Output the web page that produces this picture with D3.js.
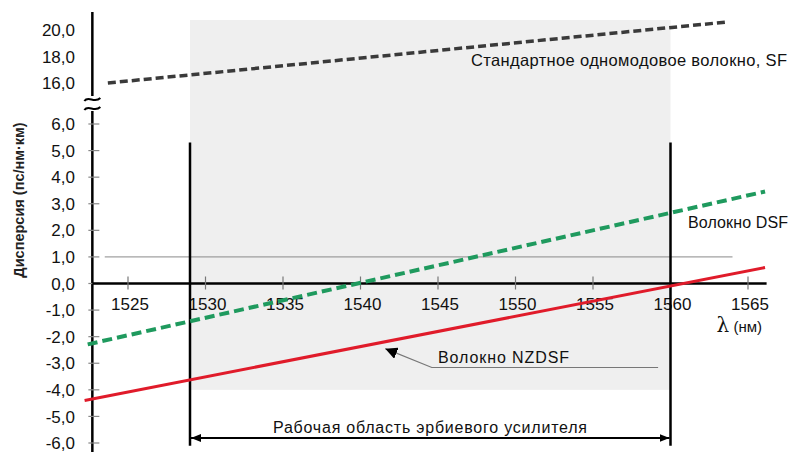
<!DOCTYPE html>
<html><head><meta charset="utf-8">
<script src="https://cdn.jsdelivr.net/npm/d3@7"></script>
<style>body{margin:0;background:#fff}svg{display:block;font-family:"Liberation Sans",Arial,sans-serif}</style>
</head><body><svg id="c" width="797" height="452"></svg>
<script>
const xTicks = [1525,1530,1535,1540,1545,1550,1555,1560,1565];
const yLowTicks = [-6,-5,-4,-3,-2,-1,0,1,2,3,4,5,6];
const yHighTicks = [16,18,20];
const sfLambda = [1523.7, 1563.6];
const sfValues = [16.0, 20.6];
const dsfLambda = [1522.4, 1566.1];
const dsfValues = [-2.29, 3.46];
const nzLambda = [1522.2, 1566.1];
const nzValues = [-4.40, 0.60];
const refLambda = [1523.5, 1564.0];
const refValues = [1.0, 1.0];
const bandLambda = [1529, 1560];

const svg = d3.select('#c');
const x = d3.scaleLinear().domain([1525,1565]).range([128,748]);
const yL = d3.scaleLinear().domain([-6,6]).range([443,124]);
const yH = d3.scaleLinear().domain([16,20]).range([83,30]);
const fmt = v => d3.format('.1f')(v).replace('.', ',').replace('−','-');

const defs = svg.append('defs');
defs.append('marker').attr('id','ah').attr('viewBox','0 0 10 10').attr('refX',10).attr('refY',5)
  .attr('markerWidth',10).attr('markerHeight',10).attr('markerUnits','userSpaceOnUse').attr('orient','auto-start-reverse')
  .append('path').attr('d','M0,1 L10,5 L0,9 Z').attr('fill','#000');
defs.append('marker').attr('id','ah2').attr('viewBox','0 0 10 10').attr('refX',10).attr('refY',5)
  .attr('markerWidth',12).attr('markerHeight',12).attr('markerUnits','userSpaceOnUse').attr('orient','auto')
  .append('path').attr('d','M0,0 L10,5 L0,10 Z').attr('fill','#000');

// shaded band
svg.append('rect').attr('x',x(bandLambda[0])).attr('y',yH(20.75))
  .attr('width',x(bandLambda[1])-x(bandLambda[0])).attr('height',yL(-4)-yH(20.75)).attr('fill','#efefef');

// thin reference line at 1.0
svg.append('line').attr('x1',x(refLambda[0])).attr('x2',x(refLambda[1]))
  .attr('y1',yL(refValues[0])).attr('y2',yL(refValues[1])).attr('stroke','#8a8a8a').attr('stroke-width',1);

// y axis
const ax = x(1522.7);
svg.append('line').attr('x1',ax).attr('x2',ax).attr('y1',12).attr('y2',96).attr('stroke','#000').attr('stroke-width',2.5);
svg.append('line').attr('x1',ax).attr('x2',ax).attr('y1',111).attr('y2',452).attr('stroke','#000').attr('stroke-width',2.5);
[99,108].forEach(yy=>{
  svg.append('path').attr('d',`M${ax-8},${yy+2} C${ax-4},${yy-4} ${ax+2},${yy+5} ${ax+8},${yy-1}`)
    .attr('fill','none').attr('stroke','#000').attr('stroke-width',2);
});
// y ticks
const gyl = svg.append('g');
yLowTicks.forEach(t=>{
  gyl.append('line').attr('x1',ax-4).attr('x2',ax+7).attr('y1',yL(t)).attr('y2',yL(t)).attr('stroke','#888').attr('stroke-width',1.2);
  gyl.append('text').attr('x',75).attr('y',yL(t)).attr('dy','0.36em').attr('text-anchor','end')
    .attr('font-size',17).attr('fill','#111').text(fmt(t));
});
yHighTicks.forEach(t=>{
  gyl.append('text').attr('x',75).attr('y',yH(t)).attr('dy','0.36em').attr('text-anchor','end')
    .attr('font-size',17).attr('fill','#111').text(fmt(t));
});

// x axis
svg.append('line').attr('x1',ax).attr('x2',x(1566.2)).attr('y1',yL(0)).attr('y2',yL(0)).attr('stroke','#000').attr('stroke-width',2.5);
xTicks.forEach(t=>{
  svg.append('line').attr('x1',x(t)).attr('x2',x(t)).attr('y1',yL(0)-7).attr('y2',yL(0)+6).attr('stroke','#777').attr('stroke-width',1.2);
  svg.append('text').attr('x',x(t)+2).attr('y',yL(0)+26).attr('text-anchor','middle')
    .attr('font-size',17).attr('fill','#111').text(t);
});

// vertical band borders
bandLambda.forEach(l=>{
  svg.append('line').attr('x1',x(l)).attr('x2',x(l)).attr('y1',yL(5.3)).attr('y2',yL(-6.1)).attr('stroke','#000').attr('stroke-width',2.5);
});

// series
const lineL = d3.line().x(d=>x(d[0])).y(d=>yL(d[1]));
const lineH = d3.line().x(d=>x(d[0])).y(d=>yH(d[1]));
svg.append('path').attr('d',lineH(d3.zip(sfLambda,sfValues))).attr('fill','none')
  .attr('stroke','#3a3a3a').attr('stroke-width',3.5).attr('stroke-dasharray','8,4');
svg.append('path').attr('d',lineL(d3.zip(dsfLambda,dsfValues))).attr('fill','none')
  .attr('stroke','#1f9a5e').attr('stroke-width',4).attr('stroke-dasharray','10,5');
svg.append('path').attr('d',lineL(d3.zip(nzLambda,nzValues))).attr('fill','none')
  .attr('stroke','#e01b2a').attr('stroke-width',3);

// labels
svg.append('text').attr('x',471).attr('y',66).attr('font-size',16.5).attr('textLength',316).attr('fill','#111').text('Стандартное одномодовое волокно, SF');
svg.append('text').attr('x',688).attr('y',228).attr('font-size',16).attr('textLength',100).attr('fill','#111').text('Волокно DSF');
svg.append('text').attr('x',438).attr('y',363).attr('font-size',16).attr('textLength',131).attr('fill','#111').text('Волокно NZDSF');
svg.append('path').attr('d',`M${x(1559.2)},${yL(-3.16)} L${x(1544.6)},${yL(-3.16)} L${x(1541.6)},${yL(-2.45)}`)
  .attr('fill','none').attr('stroke','#777').attr('stroke-width',1.2).attr('marker-end','url(#ah2)');

// amplifier range arrow
svg.append('line').attr('x1',x(bandLambda[0])+1).attr('x2',x(bandLambda[1])-1).attr('y1',438).attr('y2',438)
  .attr('stroke','#000').attr('stroke-width',2).attr('marker-start','url(#ah)').attr('marker-end','url(#ah)');
svg.append('text').attr('x',273).attr('y',433).attr('font-size',16).attr('textLength',314)
  .attr('fill','#111').text('Рабочая область эрбиевого усилителя');

// axis titles
svg.append('text').attr('x',762).attr('y',332).attr('text-anchor','end').attr('fill','#111')
  .html('<tspan font-size="20" font-family="DejaVu Serif">λ</tspan><tspan font-size="15"> (нм)</tspan>');
svg.append('text').attr('transform','translate(24,200) rotate(-90)').attr('text-anchor','middle')
  .attr('font-size',14.5).attr('font-weight','bold').attr('fill','#222').text('Дисперсия (пс/нм·км)');
</script></body></html>
